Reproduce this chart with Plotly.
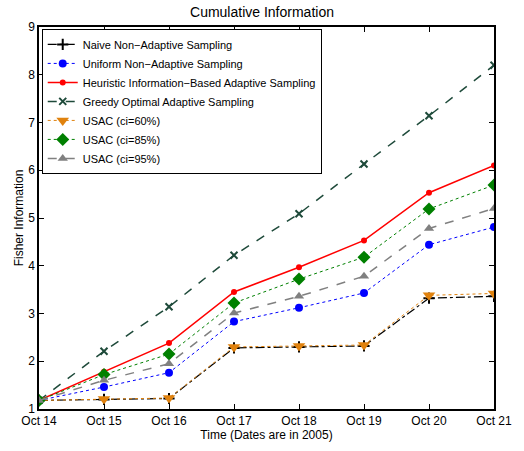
import plotly.graph_objects as go

# Sampling days (all in October 2005)
days = ["Oct 14", "Oct 15", "Oct 16", "Oct 17", "Oct 18", "Oct 19", "Oct 20", "Oct 21"]

# Cumulative Fisher information per strategy
naive = [1.18, 1.20, 1.22, 2.28, 2.30, 2.32, 3.32, 3.36]
uniform = [1.18, 1.46, 1.76, 2.83, 3.12, 3.43, 4.44, 4.81]
heuristic = [1.18, 1.78, 2.38, 3.45, 3.97, 4.53, 5.53, 6.10]
greedy = [1.18, 2.21, 3.14, 4.22, 5.09, 6.13, 7.14, 8.20]
usac60 = [1.18, 1.21, 1.23, 2.30, 2.32, 2.34, 3.38, 3.42]
usac85 = [1.18, 1.72, 2.15, 3.22, 3.72, 4.18, 5.19, 5.69]
usac95 = [1.18, 1.60, 1.95, 3.01, 3.36, 3.78, 4.78, 5.20]

series = [
    ("Naive Non\u2212Adaptive Sampling", naive, "black", "dashdot", "cross-thin", 8, 1.2),
    ("Uniform Non\u2212Adaptive Sampling", uniform, "#0000ff", "dot", "circle", 8, 1.0),
    ("Heuristic Information\u2212Based Adaptive Sampling", heuristic, "#ff0000", "solid", "circle", 6, 1.5),
    ("Greedy Optimal Adaptive Sampling", greedy, "#1e4a3a", "dash", "x-thin", 7, 1.5),
    ("USAC (ci=60%)", usac60, "#e0820e", "dot", "triangle-down", 11, 1.0),
    ("USAC (ci=85%)", usac85, "#008000", "dot", "diamond", 10, 1.0),
    ("USAC (ci=95%)", usac95, "#808080", "dash", "triangle-up", 9, 1.5),
]

fig = go.Figure()
for name, vals, color, dash, symbol, size, width in series:
    marker = dict(symbol=symbol, size=size, color=color)
    if symbol.endswith("-thin"):
        marker["line"] = dict(color=color, width=2)
    fig.add_trace(go.Scatter(
        x=days, y=vals, name=name, mode="lines+markers",
        line=dict(color=color, dash=dash, width=width),
        marker=marker,
    ))

font_family = "Liberation Sans, Arial, sans-serif"
axis_common = dict(
    showline=True, linecolor="black", linewidth=1.5, mirror="ticks",
    ticks="inside", ticklen=5, tickcolor="black", showgrid=False, zeroline=False,
    tickfont=dict(size=12, color="black", family=font_family),
)

fig.update_layout(
    width=524, height=451,
    margin=dict(l=39, r=13, t=27, b=35),
    paper_bgcolor="white", plot_bgcolor="white",
    font=dict(family=font_family, size=12, color="black"),
    title=dict(text="Cumulative Information", x=0.5, xanchor="center",
               y=0.974, yanchor="middle", font=dict(size=14, color="black")),
    xaxis=dict(axis_common, type="category", range=[0, len(days) - 1],
               title=dict(text="Time (Dates are in 2005)",
                          font=dict(size=12, color="black"), standoff=2)),
    yaxis=dict(axis_common, range=[1, 9], dtick=1,
               title=dict(text="Fisher Information",
                          font=dict(size=12, color="black"), standoff=2)),
    legend=dict(x=0.006, y=0.995, xanchor="left", yanchor="top",
                bordercolor="black", borderwidth=1, bgcolor="white",
                font=dict(size=11, color="black"), tracegroupgap=0, itemwidth=30),
    showlegend=True,
)

fig.write_html("out.html")
